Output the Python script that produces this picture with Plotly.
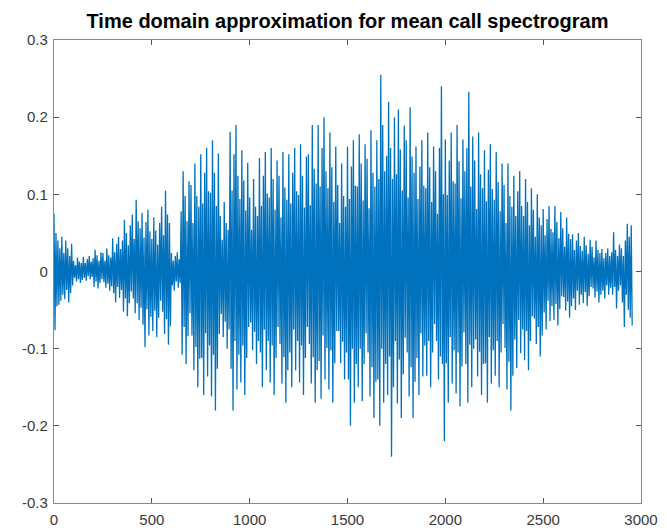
import plotly.graph_objects as go

title_text = "Time domain approximation for mean call spectrogram"
sample_step = 5  # samples between listed values

# Signal values, one row per 50 samples
signal_values = [
    0.075, -0.076, 0.05, -0.045, 0.04, -0.043, 0.03, -0.038, 0.045, -0.03,
    0.024, -0.036, 0.04, -0.024, 0.03, -0.04, 0.02, -0.028, 0.036, -0.018,
    0.014, -0.008, 0.008, -0.013, 0.018, -0.01, 0.013, -0.015, 0.011, -0.011,
    0.019, -0.008, 0.011, -0.012, 0.016, -0.006, 0.02, -0.01, 0.013, -0.007,
    0.017, -0.02, 0.028, -0.013, 0.021, -0.022, 0.014, -0.015, 0.025, -0.01,
    0.024, -0.014, 0.014, -0.021, 0.03, -0.016, 0.021, -0.025, 0.018, -0.019,
    0.043, -0.028, 0.025, -0.04, 0.036, -0.02, 0.045, -0.034, 0.029, -0.024,
    0.04, -0.052, 0.067, -0.035, 0.05, -0.058, 0.034, -0.041, 0.06, -0.026,
    0.074, -0.035, 0.042, -0.054, 0.093, -0.041, 0.065, -0.063, 0.056, -0.047,
    0.076, -0.069, 0.044, -0.098, 0.064, -0.049, 0.08, -0.083, 0.052, -0.059,
    0.042, -0.077, 0.07, -0.051, 0.053, -0.085, 0.035, -0.06, 0.063, -0.038,
    0.084, -0.052, 0.047, -0.081, 0.105, -0.062, 0.074, -0.095, 0.063, -0.071,
    0.024, -0.018, 0.014, -0.025, 0.02, -0.013, 0.025, -0.021, 0.016, -0.015,
    0.078, -0.108, 0.13, -0.072, 0.098, -0.12, 0.065, -0.084, 0.117, -0.054,
    0.112, -0.083, 0.063, -0.128, 0.14, -0.098, 0.098, -0.15, 0.084, -0.113,
    0.152, -0.112, 0.088, -0.16, 0.128, -0.08, 0.16, -0.136, 0.104, -0.096,
    0.102, -0.162, 0.17, -0.108, 0.128, -0.18, 0.085, -0.126, 0.153, -0.081,
    0.072, -0.055, 0.041, -0.085, 0.09, -0.065, 0.063, -0.1, 0.054, -0.075,
    0.181, -0.126, 0.105, -0.18, 0.152, -0.09, 0.19, -0.153, 0.124, -0.108,
    0.094, -0.144, 0.157, -0.096, 0.118, -0.16, 0.079, -0.112, 0.141, -0.072,
    0.096, -0.066, 0.054, -0.102, 0.12, -0.078, 0.084, -0.12, 0.072, -0.09,
    0.147, -0.105, 0.085, -0.15, 0.124, -0.075, 0.155, -0.128, 0.101, -0.09,
    0.096, -0.144, 0.16, -0.096, 0.12, -0.16, 0.08, -0.112, 0.144, -0.072,
    0.124, -0.094, 0.07, -0.145, 0.155, -0.111, 0.109, -0.17, 0.093, -0.128,
    0.152, -0.105, 0.088, -0.15, 0.128, -0.075, 0.16, -0.128, 0.104, -0.09,
    0.099, -0.144, 0.165, -0.096, 0.124, -0.16, 0.083, -0.112, 0.149, -0.072,
    0.152, -0.094, 0.086, -0.145, 0.19, -0.111, 0.133, -0.17, 0.114, -0.128,
    0.19, -0.116, 0.11, -0.165, 0.16, -0.083, 0.2, -0.14, 0.13, -0.099,
    0.108, -0.153, 0.18, -0.102, 0.135, -0.17, 0.09, -0.119, 0.162, -0.077,
    0.112, -0.077, 0.063, -0.119, 0.14, -0.091, 0.098, -0.14, 0.084, -0.105,
    0.162, -0.14, 0.094, -0.2, 0.136, -0.1, 0.17, -0.17, 0.111, -0.12,
    0.11, -0.15, 0.178, -0.1, 0.14, -0.168, 0.092, -0.12, 0.165, -0.08,
    0.146, -0.105, 0.082, -0.162, 0.183, -0.124, 0.128, -0.19, 0.11, -0.143,
    0.17, -0.14, 0.12, -0.2, 0.255, -0.1, 0.19, -0.17, 0.13, -0.12,
    0.15, -0.16, 0.22, -0.11, 0.16, -0.24, 0.12, -0.15, 0.2, -0.09,
    0.126, -0.171, 0.21, -0.114, 0.158, -0.19, 0.105, -0.133, 0.189, -0.086,
    0.17, -0.105, 0.096, -0.162, 0.213, -0.124, 0.149, -0.19, 0.128, -0.143,
    0.162, -0.112, 0.094, -0.16, 0.136, -0.08, 0.17, -0.136, 0.111, -0.096,
    0.108, -0.135, 0.18, -0.09, 0.135, -0.15, 0.09, -0.105, 0.162, -0.068,
    0.13, -0.09, 0.075, -0.14, 0.16, -0.11, 0.24, -0.12, 0.1, -0.22,
    0.171, -0.119, 0.099, -0.17, 0.144, -0.085, 0.18, -0.145, 0.117, -0.102,
    0.114, -0.158, 0.19, -0.105, 0.143, -0.175, 0.095, -0.123, 0.171, -0.079,
    0.13, -0.12, 0.16, -0.17, 0.233, -0.095, 0.11, -0.15, 0.175, -0.1,
    0.144, -0.088, 0.081, -0.136, 0.18, -0.104, 0.126, -0.16, 0.108, -0.12,
    0.157, -0.119, 0.091, -0.17, 0.132, -0.085, 0.165, -0.145, 0.107, -0.102,
    0.093, -0.135, 0.155, -0.09, 0.116, -0.15, 0.078, -0.105, 0.14, -0.068,
    0.112, -0.099, 0.063, -0.153, 0.14, -0.117, 0.098, -0.18, 0.084, -0.135,
    0.124, -0.088, 0.072, -0.125, 0.104, -0.063, 0.13, -0.106, 0.085, -0.075,
    0.072, -0.115, 0.12, -0.077, 0.09, -0.128, 0.06, -0.09, 0.108, -0.058,
    0.08, -0.061, 0.045, -0.094, 0.1, -0.072, 0.07, -0.11, 0.06, -0.083,
    0.081, -0.053, 0.047, -0.075, 0.068, -0.038, 0.085, -0.064, 0.055, -0.045,
    0.051, -0.063, 0.085, -0.042, 0.064, -0.07, 0.043, -0.049, 0.077, -0.032,
    0.056, -0.033, 0.032, -0.051, 0.07, -0.039, 0.049, -0.06, 0.042, -0.045,
    0.048, -0.035, 0.028, -0.05, 0.04, -0.025, 0.05, -0.043, 0.033, -0.03,
    0.027, -0.041, 0.045, -0.027, 0.034, -0.045, 0.023, -0.032, 0.041, -0.02,
    0.032, -0.022, 0.018, -0.034, 0.04, -0.026, 0.028, -0.04, 0.024, -0.03,
    0.029, -0.025, 0.017, -0.035, 0.024, -0.018, 0.03, -0.03, 0.02, -0.021,
    0.025, -0.03, 0.051, -0.02, 0.028, -0.048, 0.02, -0.025, 0.035, -0.018,
    0.03, -0.04, 0.02, -0.072, 0.04, -0.03, 0.062, -0.05, 0.045, -0.06,
    0.06, -0.07,
]
sample_index = [i * sample_step for i in range(len(signal_values))]

x_ticks = [0, 500, 1000, 1500, 2000, 2500, 3000]
y_ticks = [-0.3, -0.2, -0.1, 0, 0.1, 0.2, 0.3]
y_tick_labels = ["-0.3", "-0.2", "-0.1", "0", "0.1", "0.2", "0.3"]

fig = go.Figure()
fig.add_trace(go.Scatter(
    x=sample_index, y=signal_values, mode="lines",
    line=dict(color="#0072BD", width=1.3),
    showlegend=False, hoverinfo="skip",
))

axis_common = dict(
    showgrid=False, zeroline=False, showline=True, mirror="ticks",
    linecolor="#8a8a8a", linewidth=1.3, ticks="inside", ticklen=5,
    tickcolor="#555555", tickwidth=1, automargin=False,
    tickfont=dict(family="Liberation Sans, Arial, sans-serif", size=15, color="#3a3a3a"),
)
fig.update_xaxes(range=[0, 3000], tickvals=x_ticks, ticklabelstandoff=3, **axis_common)
fig.update_yaxes(range=[-0.3, 0.3], tickvals=y_ticks, ticktext=y_tick_labels,
                 ticklabelstandoff=2, **axis_common)

fig.update_layout(
    width=667, height=531,
    margin=dict(l=54, r=26, t=40, b=28),
    paper_bgcolor="white", plot_bgcolor="white",
    title=dict(
        text="<b>" + title_text + "</b>",
        x=(54 + 641) / 2 / 667, xanchor="center",
        y=1 - 21 / 531, yanchor="middle",
        font=dict(family="Liberation Sans, Arial, sans-serif", size=20, color="#000000"),
    ),
)

fig.write_html("out.html")
